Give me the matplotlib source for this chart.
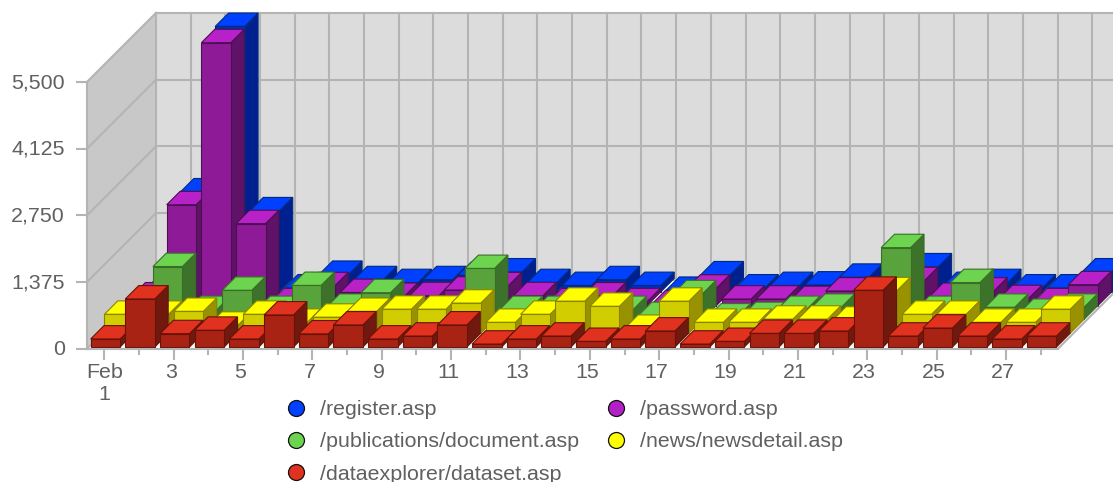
"""3D-style daily hits per page, drawn as extruded bars on a flat axes"""
import matplotlib
matplotlib.use("Agg")
import matplotlib.pyplot as plt
from matplotlib.lines import Line2D
from matplotlib.patches import Polygon
from matplotlib.transforms import ScaledTranslation

plt.rcParams["font.family"] = ["Liberation Sans", "DejaVu Sans"]

# back row first, the way the bars are stacked in depth
SERIES = ["/register.asp", "/password.asp", "/publications/document.asp",
          "/news/newsdetail.asp", "/dataexplorer/dataset.asp"]
REGISTER = [60, 2060, 5470, 1670, 80, 360, 250, 190, 250, 340, 410, 190, 130, 250,
            130, 30, 350, 80, 130, 140, 300, 160, 515, 130, 190, 80, 80, 410]
PASSWORD = [200, 2080, 5420, 1690, 80, 410, 270, 190, 205, 320, 410, 205, 80, 200,
            80, 40, 360, 135, 135, 125, 300, 290, 515, 190, 300, 145, 80, 430]
DOCUMENT = [100, 1090, 205, 600, 205, 700, 250, 550, 100, 100, 1050, 205, 205, 100,
            205, 80, 530, 50, 80, 205, 250, 60, 1480, 205, 760, 250, 145, 250]
NEWS = [390, 390, 450, 165, 390, 225, 330, 450, 495, 495, 620, 225, 390, 660,
        555, 100, 660, 225, 225, 290, 290, 270, 875, 390, 390, 225, 225, 495]
DATASET = [165, 990, 275, 345, 165, 660, 270, 455, 165, 225, 455, 60, 165, 225,
           115, 165, 330, 60, 115, 280, 280, 330, 1170, 225, 390, 225, 165, 225]
ALL_VALUES = [REGISTER, PASSWORD, DOCUMENT, NEWS, DATASET]

YTICKS = [0, 1375, 2750, 4125, 5500]
YTICK_LABELS = ["0", "1,375", "2,750", "4,125", "5,500"]
N_DAYS = 28
XTICK_LABELS = ["Feb\n1", "3", "5", "7", "9", "11", "13", "15", "17", "19", "21", "23", "25", "27"]

# (top, front, side, edge)
COLORS = [("#0040ff", "#0030b8", "#002090", "#002a80"),
          ("#b820c8", "#8e1a98", "#601268", "#4c0f52"),
          ("#6cd44e", "#58a33c", "#3c722a", "#3a6e28"),
          ("#ffff00", "#d2cd00", "#999200", "#8a8400"),
          ("#e0321e", "#a82314", "#701a0f", "#6a1208")]
LEGEND_COLORS = ["#0040ff", "#b420c8", "#6cd44e", "#ffff00", "#e0321e"]
GRID = "#b4b4b4"
TEXT = "#606060"

W, H = 1113, 482
fig = plt.figure(figsize=(W / 100, H / 100), dpi=100)
ax = fig.add_axes([87 / W, (H - 348.7) / H, (1058 - 87) / W, (348.7 - 81.9) / H])
ax.set_xlim(0, N_DAYS)
ax.set_ylim(0, 5500)
ax.patch.set_visible(False)
for s in ax.spines.values():
    s.set_visible(False)

# one depth slot in data units
SLOT_X = 13.8 / (971 / N_DAYS)
SLOT_Y = 13.8 / (266.8 / 5500)
N_SLOTS = len(SERIES)
# bars stand a little above the axis line
LIFT = 1.7 / (266.8 / 5500)


def proj(day, depth, val):
    return day + depth * SLOT_X, val + depth * SLOT_Y


def poly(pts, fc, ec="none", lw=0.0, z=1):
    ax.add_patch(Polygon(pts, closed=True, fc=fc, ec=ec, lw=lw, zorder=z, clip_on=False,
                         joinstyle="miter"))


def line(p0, p1, z=1.5):
    ax.plot([p0[0], p1[0]], [p0[1], p1[1]], color=GRID, lw=1.5, zorder=z, clip_on=False,
            solid_capstyle="projecting")


# walls and floor
far_day = N_DAYS + 2
poly([proj(0, N_SLOTS, 0), proj(far_day, N_SLOTS, 0), proj(far_day, N_SLOTS, 5500), proj(0, N_SLOTS, 5500)], "#dcdcdc")
poly([proj(0, 0, 0), proj(0, N_SLOTS, 0), proj(0, N_SLOTS, 5500), proj(0, 0, 5500)], "#c8c8c8")
poly([proj(0, 0, 0), proj(N_DAYS, 0, 0), proj(N_DAYS, N_SLOTS, 0), proj(0, N_SLOTS, 0)], "#ffffff")
for v in YTICKS:
    line(proj(0, 0, v), proj(0, N_SLOTS, v))
    line(proj(0, N_SLOTS, v), proj(far_day, N_SLOTS, v))
for d in range(0, far_day + 1):
    line(proj(d, N_SLOTS, 0), proj(d, N_SLOTS, 5500))
line(proj(0, 0, 0), proj(0, 0, 5500))
line(proj(0, 0, 0), proj(N_DAYS, 0, 0), z=30)
line(proj(N_DAYS, 0, 0), proj(N_DAYS, N_SLOTS, 0), z=30)

# bars, back row to front row, left to right
BAR_PAD = 0.105
BAR_W = 0.85
z = 2
for row, (vals, cols) in enumerate(zip(ALL_VALUES, COLORS)):
    depth = N_SLOTS - 1 - row
    top_c, front_c, side_c, edge_c = cols
    for day, v in enumerate(vals):
        x0, x1 = day + BAR_PAD, day + BAR_PAD + BAR_W
        lo, hi = LIFT, v + LIFT
        poly([proj(x1, depth, lo), proj(x1, depth + 0.97, lo), proj(x1, depth + 0.97, hi), proj(x1, depth, hi)],
             side_c, edge_c, 0.8, z)
        poly([proj(x0, depth, hi), proj(x1, depth, hi), proj(x1, depth + 0.97, hi), proj(x0, depth + 0.97, hi)],
             top_c, edge_c, 0.8, z)
        poly([proj(x0, depth, lo), proj(x1, depth, lo), proj(x1, depth, hi), proj(x0, depth, hi)],
             front_c, edge_c, 0.8, z)
        z += 0.01

# ticks
ax.set_yticks(YTICKS, YTICK_LABELS)
ax.set_xticks([d + 0.5 for d in range(0, N_DAYS, 2)], XTICK_LABELS)
ax.set_xticks([d + 0.5 for d in range(1, N_DAYS, 2)], minor=True)
ax.tick_params(axis="y", length=8, width=1.5, color=GRID, labelcolor=TEXT, labelsize=15.4, pad=8)
ax.tick_params(axis="x", which="major", length=8, width=1.5, color=GRID, labelcolor=TEXT, labelsize=15.4, pad=2.5)
ax.tick_params(axis="x", which="minor", length=4, width=1.5, color=GRID)
for lbl in ax.get_xticklabels()[1:]:
    lbl.set_transform(lbl.get_transform() + ScaledTranslation(-3 / 100, 0, fig.dpi_scale_trans))
for lbl in ax.get_yticklabels():
    lbl.set_transform(lbl.get_transform() + ScaledTranslation(0, 1.2 / 100, fig.dpi_scale_trans))

handles = [Line2D([], [], ls="none", marker="o", ms=11.5, mfc=c, mec="#111111", mew=0.9) for c in LEGEND_COLORS]
# column-wise fill: 3 in the first column, 2 in the second
order = [0, 2, 4, 1, 3]
leg = ax.legend([handles[i] for i in order], [SERIES[i] for i in order], ncol=2,
                loc="upper left", frameon=False, fontsize=15.4, labelcolor=TEXT,
                handletextpad=0.47, labelspacing=0.62, columnspacing=1.07, borderpad=0,
                borderaxespad=0, handlelength=1.3)
leg.set_bbox_to_anchor((282 / W, 1 - 400 / H), transform=fig.transFigure)

fig.savefig("out.png", dpi=100)
plt.close(fig)
